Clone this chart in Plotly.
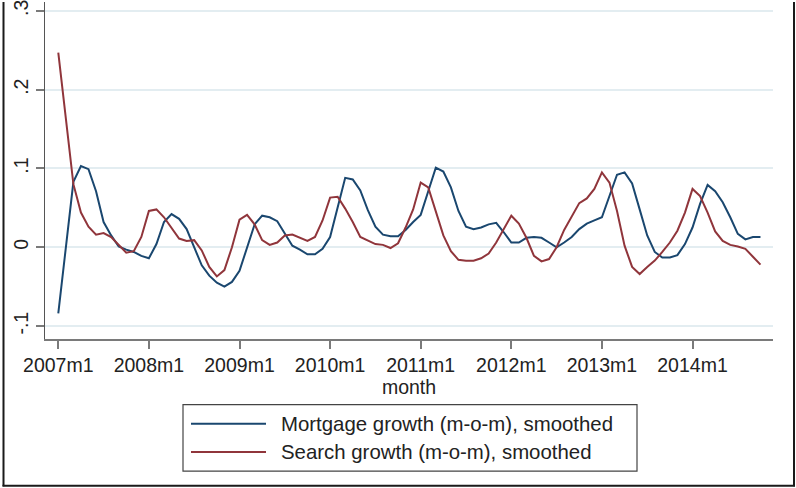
import plotly.graph_objects as go

# Monthly index: 0 = 2007m1 ... 93 = 2014m10
month_index = list(range(94))

mortgage_growth = [
    -0.084, 0.000, 0.083, 0.103, 0.099, 0.071, 0.032, 0.015, 0.001, -0.003,
    -0.006, -0.011, -0.014, 0.004, 0.032, 0.042, 0.036, 0.023, 0.000, -0.023,
    -0.036, -0.045, -0.050, -0.044, -0.030, 0.000, 0.029, 0.040, 0.038, 0.033,
    0.017, 0.002, -0.003, -0.009, -0.009, -0.002, 0.013, 0.050, 0.088, 0.086,
    0.072, 0.047, 0.026, 0.016, 0.014, 0.014, 0.022, 0.032, 0.041, 0.071,
    0.101, 0.096, 0.076, 0.046, 0.026, 0.023, 0.025, 0.029, 0.031, 0.019,
    0.006, 0.006, 0.012, 0.013, 0.012, 0.006, 0.000, 0.006, 0.013, 0.023,
    0.030, 0.034, 0.038, 0.065, 0.092, 0.095, 0.081, 0.048, 0.015, -0.006,
    -0.013, -0.013, -0.010, 0.004, 0.025, 0.055, 0.079, 0.071, 0.057, 0.038,
    0.017, 0.010, 0.013, 0.013,
]

search_growth = [
    0.247, 0.165, 0.080, 0.044, 0.026, 0.016, 0.018, 0.013, 0.003, -0.007,
    -0.005, 0.013, 0.046, 0.048, 0.038, 0.025, 0.011, 0.008, 0.009, -0.004,
    -0.025, -0.037, -0.029, 0.000, 0.035, 0.041, 0.029, 0.009, 0.003, 0.006,
    0.015, 0.016, 0.012, 0.008, 0.013, 0.034, 0.063, 0.064, 0.049, 0.032,
    0.013, 0.008, 0.004, 0.003, -0.001, 0.005, 0.025, 0.048, 0.082, 0.076,
    0.046, 0.015, -0.005, -0.016, -0.017, -0.017, -0.014, -0.008, 0.006, 0.023,
    0.040, 0.030, 0.012, -0.011, -0.018, -0.015, 0.000, 0.022, 0.040, 0.056,
    0.062, 0.074, 0.095, 0.082, 0.046, 0.002, -0.025, -0.034, -0.025, -0.017,
    -0.006, 0.006, 0.021, 0.044, 0.074, 0.065, 0.044, 0.020, 0.008, 0.003,
    0.001, -0.002, -0.012, -0.022,
]

x_tick_vals = [0, 12, 24, 36, 48, 60, 72, 84]
x_tick_text = ["2007m1", "2008m1", "2009m1", "2010m1", "2011m1", "2012m1", "2013m1", "2014m1"]
y_tick_vals = [-0.1, 0.0, 0.1, 0.2, 0.3]
y_tick_text = ["-.1", "0", ".1", ".2", ".3"]

series_names = ["Mortgage growth (m-o-m), smoothed", "Search growth (m-o-m), smoothed"]
series_colors = ["#1a476f", "#90353b"]

FONT = "Liberation Sans, Arial, Helvetica, sans-serif"
TEXT_COLOR = "#222222"

fig = go.Figure()
for name, values, color in zip(series_names, [mortgage_growth, search_growth], series_colors):
    fig.add_trace(go.Scatter(
        x=month_index, y=values, mode="lines", name=name,
        line=dict(color=color, width=2), showlegend=False,
    ))

fig.update_layout(
    width=796, height=488,
    margin=dict(l=45, r=23, t=0, b=149),
    paper_bgcolor="white", plot_bgcolor="white",
    font=dict(family=FONT, size=19.5, color=TEXT_COLOR),
)

fig.update_xaxes(
    range=[-1.76, 94.66],
    tickmode="array", tickvals=x_tick_vals, ticktext=x_tick_text,
    showgrid=False, zeroline=False,
    showline=True, linecolor="#7a7a7a", linewidth=1.6,
    ticks="outside", ticklen=8, tickwidth=1.5, tickcolor="#7a7a7a",
    tickfont=dict(size=19.5, color=TEXT_COLOR),
    title=dict(text="month", font=dict(size=19.5, color=TEXT_COLOR), standoff=0),
)

fig.update_yaxes(
    range=[-0.1164, 0.3111],
    tickmode="array", tickvals=y_tick_vals, ticktext=y_tick_text,
    tickangle=-90, ticklabeloverflow="allow",
    showgrid=True, gridcolor="#e3edf1", gridwidth=1.5, zeroline=False,
    showline=True, linecolor="#555555", linewidth=1.2,
    ticks="outside", ticklen=8, tickwidth=1.5, tickcolor="#7a7a7a",
    tickfont=dict(size=19.5, color=TEXT_COLOR),
)

# Outer frame (left, right, bottom)
plot_left, plot_width, plot_bottom, plot_height = 45, 728, 339, 339


def px_x(px):
    return (px - plot_left) / plot_width


def px_y(py):
    return (plot_bottom - py) / plot_height


frame = dict(color="#1a1a1a", width=2)
fig.add_shape(type="line", xref="paper", yref="paper",
              x0=px_x(3.5), x1=px_x(3.5), y0=px_y(487), y1=px_y(0), line=frame)
fig.add_shape(type="line", xref="paper", yref="paper",
              x0=px_x(794), x1=px_x(794), y0=px_y(487), y1=px_y(0), line=frame)
fig.add_shape(type="line", xref="paper", yref="paper",
              x0=px_x(2.5), x1=px_x(795), y0=px_y(486.5), y1=px_y(486.5), line=frame)

# Legend box with line samples and labels
fig.add_shape(type="rect", xref="paper", yref="paper",
              x0=px_x(183), x1=px_x(637), y0=px_y(472), y1=px_y(405),
              line=dict(color="#444444", width=1.2), fillcolor="white")
for name, color, row_y in zip(series_names, series_colors, [424.3, 452.7]):
    fig.add_shape(type="line", xref="paper", yref="paper",
                  x0=px_x(191), x1=px_x(266), y0=px_y(row_y), y1=px_y(row_y),
                  line=dict(color=color, width=2))
    fig.add_annotation(xref="paper", yref="paper", x=px_x(279), y=px_y(row_y),
                       text=name, showarrow=False, xanchor="left", yanchor="middle",
                       font=dict(family=FONT, size=20.4, color=TEXT_COLOR))

fig.write_html("out.html")
